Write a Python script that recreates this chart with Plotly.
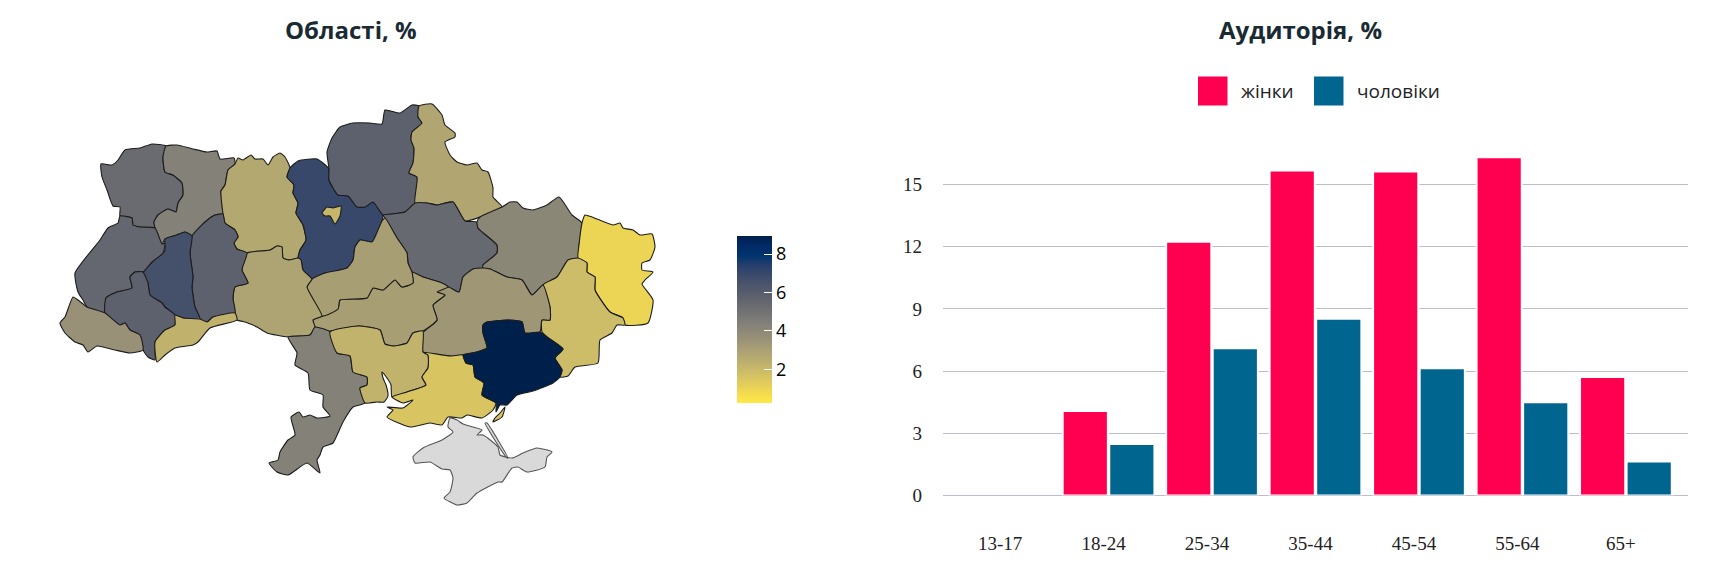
import plotly.graph_objects as go
from plotly.colors import sample_colorscale

W, H = 1723, 562

# ---------- data: age chart ----------
age_groups = ["13-17", "18-24", "25-34", "35-44", "45-54", "55-64", "65+"]
women = [0, 4.08, 12.24, 15.68, 15.63, 16.32, 5.72]
men = [0, 2.49, 7.1, 8.53, 6.14, 4.5, 1.64]
y_ticks = [0, 3, 6, 9, 12, 15]

# ---------- data: regions ----------
region_names = ["Волинська", "Рівненська", "Житомирська", "Київська", "м. Київ", "Чернігівська", "Сумська",
                "Полтавська", "Харківська", "Луганська", "Донецька", "Дніпропетровська", "Кіровоградська",
                "Черкаська", "Вінницька", "Хмельницька", "Тернопільська", "Львівська", "Івано-Франківська",
                "Чернівецька", "Закарпатська", "Одеська", "Миколаївська", "Херсонська", "Запорізька"]
region_values = [5.3, 4.33, 2.68, 7.0, 2.07, 5.8, 2.77,
                 5.4, 4.07, 0.95, 1.9, 3.4, 3.07,
                 3.07, 2.9, 5.8, 6.6, 5.5, 5.8,
                 2.3, 3.64, 4.33, 2.25, 1.55, 8.94]

# outlines, in map-grid units
volyn = [(101,164),(112,165),(118,160),(125,150),(140,148),(152,144),(166,146),(163,157),(165,172),(173,175),(182,183),(183,195),(178,203),(176,212),(168,209),(158,215),(154,222),(155,228),(140,227),(133,225),(132,218),(120,216),(120,207),(113,206),(107,190),(102,177)]
rivne = [(166,146),(177,145),(193,149),(207,152),(217,151),(220,159),(234,158),(235,164),(228,170),(225,185),(221,191),(223,214),(215,215),(205,222),(192,236),(185,232),(177,235),(165,239),(162,244),(155,228),(154,222),(158,215),(168,209),(176,212),(178,203),(183,195),(182,183),(173,175),(165,172),(163,157)]
zhytomyr = [(235,164),(238,158),(243,160),(251,155),(255,159),(263,159),(268,165),(273,157),(280,153),(285,157),(290,168),(287,177),(294,185),(293,193),(298,203),(296,213),(303,225),(306,240),(300,250),(298,258),(289,260),(283,258),(282,247),(277,246),(270,250),(247,253),(237,249),(234,243),(238,237),(235,230),(225,223),(223,214),(221,191),(225,185),(228,170)]
kyiv_obl = [(290,168),(298,161),(317,159),(329,169),(329,180),(338,195),(348,196),(357,207),(365,207),(373,202),(383,215),(382,221),(375,237),(372,242),(360,240),(355,247),(353,260),(347,268),(330,273),(325,273),(312,279),(303,270),(301,260),(298,258),(300,250),(306,240),(303,225),(296,213),(298,203),(293,193),(294,185),(287,177)]
kyiv_city = [(322,213),(327,207),(333,208),(341,206),(340,216),(335,224),(330,216),(325,216)]
chernihiv = [(329,169),(327,152),(332,138),(340,127),(353,123),(370,123),(382,124),(385,110),(400,113),(412,105),(419,106),(418,117),(422,123),(412,132),(411,140),(414,148),(413,163),(409,173),(417,177),(415,203),(405,212),(392,214),(383,215),(373,202),(365,207),(357,207),(348,196),(338,195),(329,180)]
sumy = [(419,106),(432,104),(442,115),(445,125),(455,133),(455,137),(445,142),(450,155),(457,162),(467,165),(477,163),(482,170),(488,172),(493,188),(493,197),(502,207),(480,217),(465,221),(453,202),(437,205),(427,203),(415,203),(417,177),(409,173),(413,163),(414,148),(411,140),(412,132),(422,123),(418,117)]
poltava = [(383,215),(392,214),(405,212),(415,203),(427,203),(437,205),(453,202),(465,221),(477,222),(478,228),(497,245),(497,253),(483,265),(483,268),(473,269),(463,277),(459,292),(442,283),(423,277),(412,272),(408,263),(407,253),(397,238),(385,218)]
kharkiv = [(502,207),(510,202),(517,202),(523,208),(533,210),(547,205),(559,197),(572,215),(582,223),(579,245),(578,258),(568,260),(557,277),(543,285),(532,295),(522,280),(507,277),(490,269),(483,268),(483,265),(497,253),(497,245),(478,228),(477,222),(480,217)]
luhansk = [(585,215),(592,217),(613,225),(620,223),(623,228),(633,230),(640,235),(652,234),(655,247),(650,260),(642,263),(642,270),(653,272),(645,280),(642,284),(653,300),(648,323),(625,325),(623,318),(610,312),(595,290),(595,277),(587,272),(587,263),(578,258),(579,245),(582,223)]
donetsk = [(578,258),(587,263),(587,272),(595,277),(595,290),(610,312),(623,318),(625,325),(617,325),(612,333),(600,340),(598,363),(575,367),(568,376),(560,377),(562,370),(555,358),(563,349),(547,337),(542,332),(542,320),(550,320),(550,307),(543,285),(557,277),(568,260)]
dnipro = [(459,292),(463,277),(473,269),(483,268),(490,269),(507,277),(522,280),(532,295),(543,285),(550,307),(550,320),(542,320),(540,332),(525,333),(522,322),(508,320),(487,322),(483,325),(483,333),(487,348),(477,352),(463,355),(450,356),(423,352),(423,333),(437,320),(433,305),(445,295),(437,292),(448,287)]
kirovohrad = [(313,320),(315,327),(330,331),(358,326),(380,330),(385,344),(393,346),(407,343),(413,333),(423,331),(437,320),(433,305),(445,295),(437,292),(448,287),(442,283),(423,277),(412,272),(413,283),(402,287),(395,280),(383,290),(373,288),(367,298),(340,300),(338,309),(322,316)]
cherkasy = [(312,279),(325,273),(347,268),(353,260),(355,247),(360,240),(372,242),(375,237),(382,221),(385,218),(397,238),(407,253),(408,263),(412,272),(413,283),(402,287),(395,280),(383,290),(373,288),(367,298),(340,300),(338,309),(322,316),(307,287)]
vinnytsia = [(247,253),(270,250),(277,246),(282,247),(283,258),(289,260),(298,258),(301,260),(303,270),(312,279),(307,287),(322,316),(313,320),(315,327),(310,335),(288,337),(267,333),(257,327),(245,322),(237,320),(235,313),(233,298),(235,287),(248,283),(242,270)]
khmelnytskyi = [(192,236),(205,222),(215,215),(223,214),(225,223),(235,230),(238,237),(234,243),(237,249),(247,253),(242,270),(248,283),(235,287),(233,298),(235,313),(213,317),(207,322),(200,319),(195,307),(192,287),(193,277),(190,253)]
ternopil = [(192,236),(185,232),(177,235),(165,239),(165,250),(163,253),(152,262),(143,272),(148,283),(150,295),(162,303),(165,307),(175,315),(183,318),(200,319),(195,307),(192,287),(193,277),(190,253)]
lviv = [(120,216),(118,223),(108,228),(100,240),(75,273),(78,292),(83,300),(87,307),(105,313),(106,298),(117,292),(132,288),(130,277),(135,272),(143,272),(152,262),(163,253),(165,243),(162,244),(155,228),(140,227),(133,225),(132,218)]
ivano_frankivsk = [(105,313),(106,298),(117,292),(132,288),(130,277),(135,272),(143,272),(148,283),(150,295),(162,303),(165,307),(175,315),(175,325),(165,330),(155,342),(155,360),(148,357),(143,350),(140,335),(130,330),(125,323),(120,325)]
chernivtsi = [(175,315),(183,318),(200,319),(207,322),(213,317),(235,313),(237,320),(210,328),(198,342),(193,345),(175,348),(165,355),(157,362),(155,342),(165,330),(175,325)]
zakarpattia = [(73,297),(78,300),(87,307),(105,313),(120,325),(125,323),(130,330),(140,335),(143,350),(130,353),(115,350),(97,346),(88,352),(83,345),(75,342),(65,333),(60,323),(65,317)]
odesa = [(288,337),(310,335),(315,327),(330,332),(337,353),(350,356),(353,372),(367,377),(367,385),(360,388),(365,403),(353,407),(343,422),(333,443),(323,447),(320,455),(317,460),(320,473),(307,463),(288,475),(277,472),(269,463),(278,460),(280,452),(288,440),(295,435),(291,417),(299,412),(303,417),(310,415),(317,418),(330,416),(323,407),(323,395),(310,390),(308,373),(295,365),(297,353)]
mykolaiv = [(330,332),(358,326),(380,330),(385,344),(393,346),(407,343),(413,333),(423,331),(423,352),(428,355),(428,368),(422,377),(426,385),(407,392),(392,397),(391,385),(387,378),(382,372),(383,378),(386,385),(388,396),(384,402),(377,402),(365,403),(360,388),(367,385),(367,377),(353,372),(350,356),(337,353)]
kherson = [(423,352),(450,356),(463,355),(466,363),(473,365),(475,377),(484,383),(482,395),(496,403),(493,410),(482,418),(467,415),(462,418),(448,417),(442,425),(430,423),(410,427),(387,417),(393,410),(387,407),(403,408),(413,400),(403,403),(392,397),(407,392),(426,385),(422,377),(428,368),(428,355)]
kherson_spit = [(505,407),(502,417),(493,422),(495,418),(500,413)]
zaporizhzhia = [(483,325),(487,322),(508,320),(522,322),(525,333),(540,332),(547,337),(563,349),(555,358),(562,370),(560,377),(553,383),(533,391),(517,395),(507,405),(500,405),(496,412),(496,403),(482,395),(484,383),(475,377),(473,365),(466,363),(463,355),(477,352),(487,348),(483,333)]
crimea = [(450,418),(448,427),(453,432),(442,440),(423,448),(413,457),(415,463),(430,462),(442,469),(450,470),(453,478),(450,492),(444,498),(457,505),(467,503),(477,493),(498,482),(502,482),(512,468),(518,467),(527,472),(545,467),(547,457),(552,452),(537,448),(523,453),(512,458),(500,455),(498,447),(483,435),(477,435),(482,430),(473,427),(463,424),(457,420)]
arabat_spit = [(506,457),(508,458),(487,423),(485,423)]

region_shapes = [[volyn], [rivne], [zhytomyr], [kyiv_obl], [kyiv_city], [chernihiv], [sumy],
                 [poltava], [kharkiv], [luhansk], [donetsk], [dnipro], [kirovohrad],
                 [cherkasy], [vinnytsia], [khmelnytskyi], [ternopil], [lviv], [ivano_frankivsk],
                 [chernivtsi], [zakarpattia], [odesa], [mykolaiv], [kherson, kherson_spit], [zaporizhzhia]]

colorbar_ticks = [2, 4, 6, 8]
value_min, value_max = 0.25, 8.94

cividis_rev = [[0, "rgb(255,233,69)"], [0.058824, "rgb(243,219,79)"], [0.117647, "rgb(225,204,92)"],
               [0.176471, "rgb(209,191,102)"], [0.235294, "rgb(192,177,109)"], [0.294118, "rgb(176,165,114)"],
               [0.352941, "rgb(161,152,118)"], [0.411765, "rgb(146,140,119)"], [0.470588, "rgb(131,129,120)"],
               [0.529412, "rgb(117,117,117)"], [0.588235, "rgb(104,106,112)"], [0.647059, "rgb(91,95,109)"],
               [0.705882, "rgb(76,85,107)"], [0.764706, "rgb(60,74,107)"], [0.823529, "rgb(39,63,108)"],
               [0.882353, "rgb(0,52,110)"], [0.941176, "rgb(0,42,102)"], [1, "rgb(0,32,76)"]]


def ring_xy(parts):
    xs, ys = [], []
    for part in parts:
        xs += [p[0] for p in part] + [part[0][0], None]
        ys += [p[1] for p in part] + [part[0][1], None]
    return xs, ys


fig = go.Figure()


def add_region(name, parts, fill, line):
    xs, ys = ring_xy(parts)
    fig.add_trace(go.Scatter(x=xs, y=ys, mode="lines", fill="toself", fillcolor=fill, name=name,
                             line=dict(color=line, width=1.1, shape="spline", smoothing=0.5),
                             xaxis="x2", yaxis="y2", hoveron="fills", hoverinfo="name", showlegend=False))


add_region("АР Крим", [crimea, arabat_spit], "#d9d9d9", "#555555")
for name, parts, value in zip(region_names, region_shapes, region_values):
    t = (value - value_min) / (value_max - value_min)
    add_region(name, parts, sample_colorscale(cividis_rev, [t])[0], "#1c1c1c")

# value points carry the colour scale and its colour bar
fig.add_trace(go.Scatter(
    x=[sum(p[0] for p in s[0]) / len(s[0]) for s in region_shapes],
    y=[sum(p[1] for p in s[0]) / len(s[0]) for s in region_shapes],
    mode="markers", xaxis="x2", yaxis="y2", showlegend=False, hoverinfo="skip",
    marker=dict(size=1, opacity=0, color=region_values, cmin=value_min, cmax=value_max, colorscale=cividis_rev,
                colorbar=dict(
                    x=737 / W, xanchor="left", y=1 - 403 / H, yanchor="bottom",
                    thickness=35, thicknessmode="pixels", len=167, lenmode="pixels",
                    xpad=0, ypad=0, outlinewidth=0, borderwidth=0,
                    tickvals=colorbar_ticks, ticks="inside", ticklen=8, tickcolor="#ffffff", tickwidth=1,
                    tickfont=dict(family="Open Sans", size=18, color="#000000"),
                )),
))


def stroke(values):
    return dict(color="#ffffff", width=[2 if v > 0 else 0 for v in values])


fig.add_trace(go.Bar(x=age_groups, y=women, name="жінки", marker=dict(color="#ff0050", line=stroke(women)),
                     xaxis="x", yaxis="y", showlegend=False))
fig.add_trace(go.Bar(x=age_groups, y=men, name="чоловіки", marker=dict(color="#006690", line=stroke(men)),
                     xaxis="x", yaxis="y", showlegend=False))

serif = dict(family="Liberation Serif", size=19, color="#222222")
title_font = dict(family="Open Sans", size=24, color="#1a2a33", weight="bold")
legend_font = dict(family="Open Sans", size=19, color="#222222")


def text(s, px, py, font, anchor="center"):
    return dict(text=s, x=px / W, y=1 - py / H, xref="paper", yref="paper", showarrow=False,
                font=font, xanchor=anchor, yanchor="middle")


def square(x0, color):
    return dict(type="rect", xref="paper", yref="paper", x0=x0 / W, x1=(x0 + 29.5) / W,
                y0=1 - 105.5 / H, y1=1 - 76.5 / H, fillcolor=color, line_width=0)


fig.update_layout(
    width=W, height=H, margin=dict(l=0, r=0, t=0, b=0, autoexpand=False),
    paper_bgcolor="#ffffff", plot_bgcolor="#ffffff",
    barmode="group", bargap=0.1, bargroupgap=0.03, showlegend=False,
    xaxis2=dict(domain=[0, 700 / W], range=[0, 700], visible=False, anchor="y2"),
    yaxis2=dict(domain=[0, 1], range=[H, 0], visible=False, anchor="x2"),
    xaxis=dict(domain=[943 / W, 1688 / W], range=[-0.6, 6.6], type="category", showgrid=False,
               zeroline=False, showline=False, ticks="", tickfont=serif, ticklabelstandoff=34,
               ticklabelshift=-5, anchor="y"),
    yaxis=dict(domain=[1 - 495.5 / H, 1 - 153.5 / H], range=[0, 16.5], tickvals=y_ticks, showgrid=True,
               gridcolor="#bcbccf", gridwidth=1, zeroline=True, zerolinecolor="#bcbccf", zerolinewidth=1,
               showline=False, ticks="", tickfont=serif, ticklabelstandoff=20, anchor="x"),
    annotations=[
        text("Області, %", 351, 29, title_font),
        text("Аудиторія, %", 1300, 29, title_font),
        text("жінки", 1239, 91, legend_font, "left"),
        text("чоловіки", 1355, 91, legend_font, "left"),
    ],
    shapes=[square(1198, "#ff0050"), square(1314, "#006690")],
)

fig.write_html("out.html", config={"displayModeBar": False}, post_script="document.body.style.margin='0';")
